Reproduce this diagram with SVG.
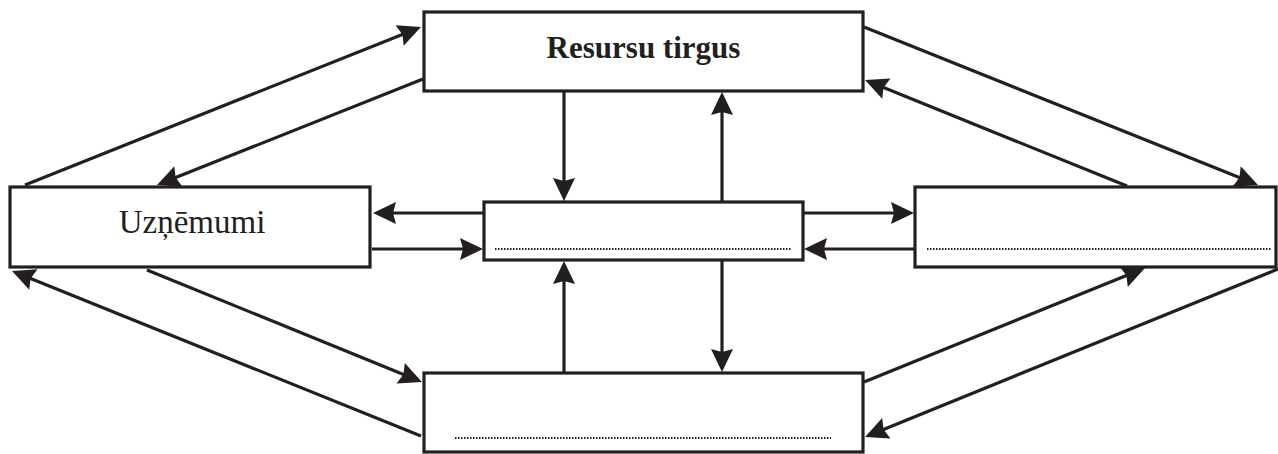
<svg xmlns="http://www.w3.org/2000/svg" width="1278" height="454" viewBox="0 0 1278 454">
<style>
.box{fill:#fff;stroke:#231f20;stroke-width:3.2}
.ln{stroke:#231f20;stroke-width:3.2;fill:none;marker-end:url(#ah)}
.dot{stroke:#231f20;stroke-width:2;stroke-dasharray:1.5 1.5;fill:none}
.lbl{font-family:"Liberation Serif",serif;fill:#231f20;text-anchor:middle}
</style>
<defs>
<marker id="ah" markerUnits="userSpaceOnUse" markerWidth="40" markerHeight="40" viewBox="-20 -20 40 40" refX="0" refY="0" orient="auto" overflow="visible">
<path d="M10,0 L-13,-11 L-10,0 L-13,11 Z" fill="#231f20"/>
</marker>
</defs>
<g id="connectors">
<line class="ln" x1="25" y1="185" x2="411.7" y2="30.7"/>
<line class="ln" x1="423" y1="79" x2="166.3" y2="181.3"/>
<line class="ln" x1="864" y1="27" x2="1248.7" y2="181.3"/>
<line class="ln" x1="1127" y1="186" x2="874.3" y2="83.8"/>
<line class="ln" x1="147" y1="270" x2="412.7" y2="378.2"/>
<line class="ln" x1="421" y1="436" x2="21.3" y2="274.7"/>
<line class="ln" x1="864" y1="382" x2="1135.7" y2="271.8"/>
<line class="ln" x1="1278" y1="269" x2="874.3" y2="433.2"/>
<line class="ln" x1="483" y1="213" x2="383" y2="213"/>
<line class="ln" x1="372" y1="249" x2="473" y2="249"/>
<line class="ln" x1="803" y1="213" x2="904" y2="213"/>
<line class="ln" x1="915" y1="249" x2="814" y2="249"/>
<line class="ln" x1="564" y1="91" x2="564" y2="191"/>
<line class="ln" x1="722" y1="202" x2="722" y2="102"/>
<line class="ln" x1="564" y1="373" x2="564" y2="271"/>
<line class="ln" x1="722" y1="260" x2="722" y2="362"/>
</g>
<g id="resursu-tirgus">
<rect class="box" x="424" y="12" width="439" height="79"/>
<text class="lbl" x="643.5" y="58" font-size="31" font-weight="bold">Resursu tirgus</text>
</g>
<g id="uznemumi">
<rect class="box" x="10" y="187" width="360" height="80"/>
<text class="lbl" x="192" y="233" font-size="33">Uzņēmumi</text>
</g>
<g id="center">
<rect class="box" x="484" y="202" width="319" height="58"/>
<line class="dot" x1="495" y1="249" x2="791" y2="249"/>
</g>
<g id="right">
<rect class="box" x="915" y="187" width="361" height="80"/>
<line class="dot" x1="927" y1="249" x2="1272" y2="249"/>
</g>
<g id="bottom">
<rect class="box" x="424" y="373" width="439" height="79"/>
<line class="dot" x1="455" y1="438" x2="831" y2="438"/>
</g>
</svg>
